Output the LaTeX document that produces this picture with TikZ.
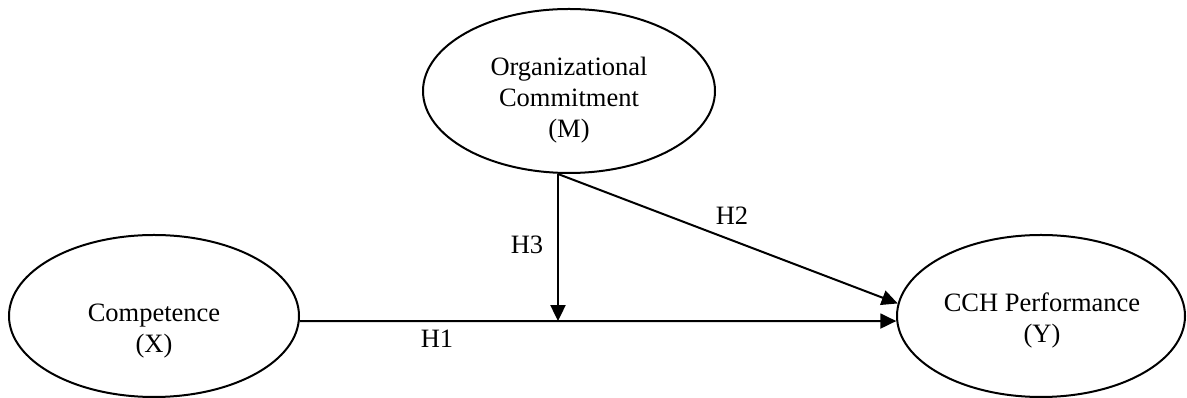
\documentclass[tikz,border=0pt]{standalone}
\usepackage{fontspec}
\setmainfont{Liberation Serif}
\usetikzlibrary{shapes.geometric,arrows.meta}
\begin{document}
\begin{tikzpicture}[x=1pt,y=1pt,
  latent/.style={draw, ellipse, line width=2pt, inner sep=0pt},
  txt/.style={align=center, inner sep=0pt, anchor=base, font=\fontsize{26.5}{31}\selectfont},
  lbl/.style={inner sep=0pt, font=\fontsize{26.5}{31}\selectfont},
  path/.style={line width=2pt, -{Triangle[length=16pt,width=15pt]}}]
\useasboundingbox (0,0) rectangle (1187,398);
% ellipses
\node[latent, minimum width=290pt, minimum height=162pt] (comp) at (154,82) {};
\node[latent, minimum width=288pt, minimum height=162pt] (cch) at (1041,82) {};
\node[latent, minimum width=292pt, minimum height=164pt] (org) at (569,307) {};
% texts
\node[txt] (compT) at (154,45) {Competence\\(X)};
\node[txt] (cchT) at (1042,55) {CCH Performance\\(Y)};
\node[txt] (orgT) at (569,260) {Organizational\\Commitment\\(M)};
% connector points
\coordinate (mb) at ([xshift=-11pt]org.south);
\coordinate (j) at (mb |- comp.-2);
% connectors
\draw[path] (comp.-2) -- (cch.182);
\draw[path] (mb) -- (j);
\draw[path] (mb) -- (cch.175);
% labels
\node[lbl] (h1) at (437,59.5) {H1};
\node[lbl] (h2) at (732,182) {H2};
\node[lbl] (h3) at (527,153) {H3};
\end{tikzpicture}
\end{document}
